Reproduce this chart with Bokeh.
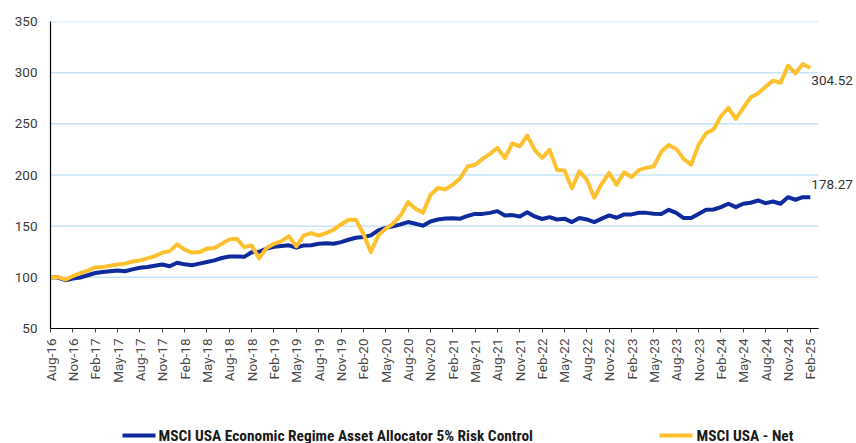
from bokeh.plotting import figure
from bokeh.models import Range1d, FixedTicker, Label
from bokeh.layouts import column
from bokeh.embed import file_html
from bokeh.resources import INLINE
from bokeh.core.properties import value

# ---- data ----
strategy = [100, 99.8, 97.2, 98.8, 99.8, 102, 104.2, 105.2, 105.9, 106.6, 105.9, 107.8,
            109.3, 110.1, 111.4, 112.6, 110.8, 114.3, 112.7, 111.8, 113.4, 115, 116.6, 118.9,
            120.4, 120.3, 120, 124.5, 125, 128, 129.8, 130.6, 131.3, 129, 131.2, 131.3,
            132.8, 133.3, 132.8, 134.4, 136.7, 138.7, 139.3, 141, 145.9, 148.3, 149.8, 151.7,
            154, 152.4, 150.5, 154.6, 156.5, 157.5, 157.8, 157.3, 160, 162, 162, 163,
            164.7, 160.5, 160.8, 159.5, 163.7, 159.5, 157, 158.8, 156.5, 157.3, 154, 157.9,
            156.6, 154, 157.3, 160.5, 158.2, 161.5, 161.5, 163.1, 163, 162.2, 162, 166,
            163, 157.9, 157.9, 162, 166, 166.3, 168.6, 171.9, 168.6, 171.9, 172.9, 175.1,
            172.5, 174.1, 171.9, 178.3, 175.8, 178.3, 178.27]
msci_usa = [100, 100.2, 97.8, 101.3, 104, 106.6, 109.6, 110, 111.4, 112.6, 113.4, 115.5,
            116.5, 118.5, 120.8, 124, 125.6, 132.2, 127, 124.2, 124.7, 128, 128.6, 132.8,
            137.1, 137.8, 129.5, 131.2, 118.5, 128.6, 132.8, 135.4, 140.3, 130.2, 141, 143.2,
            140.7, 143.2, 146.5, 151.7, 156.2, 156.2, 142.6, 124.7, 141, 147.5, 152.4, 160.5,
            173.5, 167, 163, 180.5, 187.3, 185.9, 190.5, 196.9, 208.3, 210, 215.8, 220.7,
            226.5, 216.4, 231, 228, 238.5, 224.6, 216.8, 224.6, 205, 204.4, 187, 203.7,
            195.3, 177.8, 191.4, 202, 190.4, 202.7, 197.9, 205, 207, 208.6, 222.9, 229.4,
            225.5, 215.8, 210.2, 229.4, 240.8, 244.4, 257.4, 265.5, 254.8, 265.5, 275.9, 279.8,
            286.3, 292.2, 290, 306.8, 299.3, 308.4, 304.52]
tick_labels = ["Aug-16", "Nov-16", "Feb-17", "May-17", "Aug-17", "Nov-17", "Feb-18", "May-18",
               "Aug-18", "Nov-18", "Feb-19", "May-19", "Aug-19", "Nov-19", "Feb-20", "May-20",
               "Aug-20", "Nov-20", "Feb-21", "May-21", "Aug-21", "Nov-21", "Feb-22", "May-22",
               "Aug-22", "Nov-22", "Feb-23", "May-23", "Aug-23", "Nov-23", "Feb-24", "May-24",
               "Aug-24", "Nov-24", "Feb-25"]
series_names = ["MSCI USA Economic Regime Asset Allocator 5% Risk Control", "MSCI USA - Net"]
y_ticks = [50, 100, 150, 200, 250, 300, 350]

BLUE = "#0f2a9c"
GOLD = "#fdc12f"
FONT = "Roboto"

xs = list(range(len(strategy)))
tick_pos = list(range(0, len(strategy), 3))
x_axis_end = 103.1          # where the axis / gridlines stop
x_view_end = 108.2          # extra room on the right for the end labels

p = figure(width=856, height=400, output_backend="svg", toolbar_location=None,
           x_range=Range1d(0, x_view_end), y_range=Range1d(50, 350),
           min_border_left=50, min_border_right=0, min_border_top=21, min_border_bottom=72)
p.outline_line_color = None
p.background_fill_color = "white"
p.border_fill_color = "white"

# grid (drawn as segments so they stop at the axis end)
p.xgrid.grid_line_color = None
p.ygrid.grid_line_color = None
grid_levels = [t for t in y_ticks if t > 50]
p.segment(x0=[0] * len(grid_levels), y0=grid_levels,
          x1=[x_axis_end] * len(grid_levels), y1=grid_levels,
          line_color="#c6e4f7", line_width=1.5)

# y axis
p.yaxis.ticker = FixedTicker(ticks=y_ticks)
p.yaxis.axis_line_color = "black"
p.yaxis.axis_line_width = 1.2
p.yaxis.major_tick_out = 0
p.yaxis.major_tick_in = 0
p.yaxis.minor_tick_out = 0
p.yaxis.minor_tick_in = 0
p.yaxis.major_label_standoff = 13
p.yaxis.major_label_text_font = FONT
p.yaxis.major_label_text_font_size = "13.5px"
p.yaxis.major_label_text_color = "#3a3a3a"

# x axis
p.xaxis.bounds = (0, x_axis_end)
p.xaxis.ticker = FixedTicker(ticks=tick_pos)
p.xaxis.major_label_overrides = {pos: lab for pos, lab in zip(tick_pos, tick_labels)}
p.xaxis.major_label_orientation = 1.5707963
p.xaxis.axis_line_color = "black"
p.xaxis.axis_line_width = 1.2
p.xaxis.major_tick_out = 4
p.xaxis.major_tick_in = 0
p.xaxis.major_tick_line_color = "#444444"
p.xaxis.minor_tick_out = 0
p.xaxis.minor_tick_in = 0
p.xaxis.major_label_standoff = 6
p.xaxis.major_label_text_font = FONT
p.xaxis.major_label_text_font_size = "13.5px"
p.xaxis.major_label_text_color = "#4a4a4a"

p.line(xs, strategy, line_color=BLUE, line_width=4, line_join="round")
p.line(xs, msci_usa, line_color=GOLD, line_width=4, line_join="round")

# end labels
p.add_layout(Label(x=xs[-1], y=msci_usa[-1], text=f"{msci_usa[-1]:.2f}", x_offset=1, y_offset=-12,
                   text_baseline="middle", text_font=FONT, text_font_size="13.5px",
                   text_color="#333333"))
p.add_layout(Label(x=xs[-1], y=strategy[-1], text=f"{strategy[-1]:.2f}", x_offset=1, y_offset=13,
                   text_baseline="middle", text_font=FONT, text_font_size="13.5px",
                   text_color="#333333"))

# legend strip (coordinates of this strip are page pixels)
q = figure(width=856, height=43, output_backend="svg", toolbar_location=None,
           x_axis_location=None, y_axis_location=None,
           x_range=Range1d(50, 856), y_range=Range1d(0, 43),
           min_border_left=0, min_border_right=0, min_border_top=0, min_border_bottom=0)
q.outline_line_color = None
q.xgrid.grid_line_color = None
q.ygrid.grid_line_color = None
legend_y = 8
swatch_x0 = [122, 659]
swatch_x1 = [155, 692]
label_x = [158, 696]
q.segment(x0=swatch_x0, x1=swatch_x1, y0=[legend_y] * 2, y1=[legend_y] * 2,
          line_color=[BLUE, GOLD], line_width=4)
q.text(x=label_x, y=[legend_y] * 2, text=series_names, text_baseline="middle",
       text_font=value("Roboto Condensed"), text_font_size="15.4px",
       text_font_style="bold", text_color="#1a1a1a")

layout = column(p, q, spacing=0)
open("out.html", "w").write(file_html(layout, INLINE))
